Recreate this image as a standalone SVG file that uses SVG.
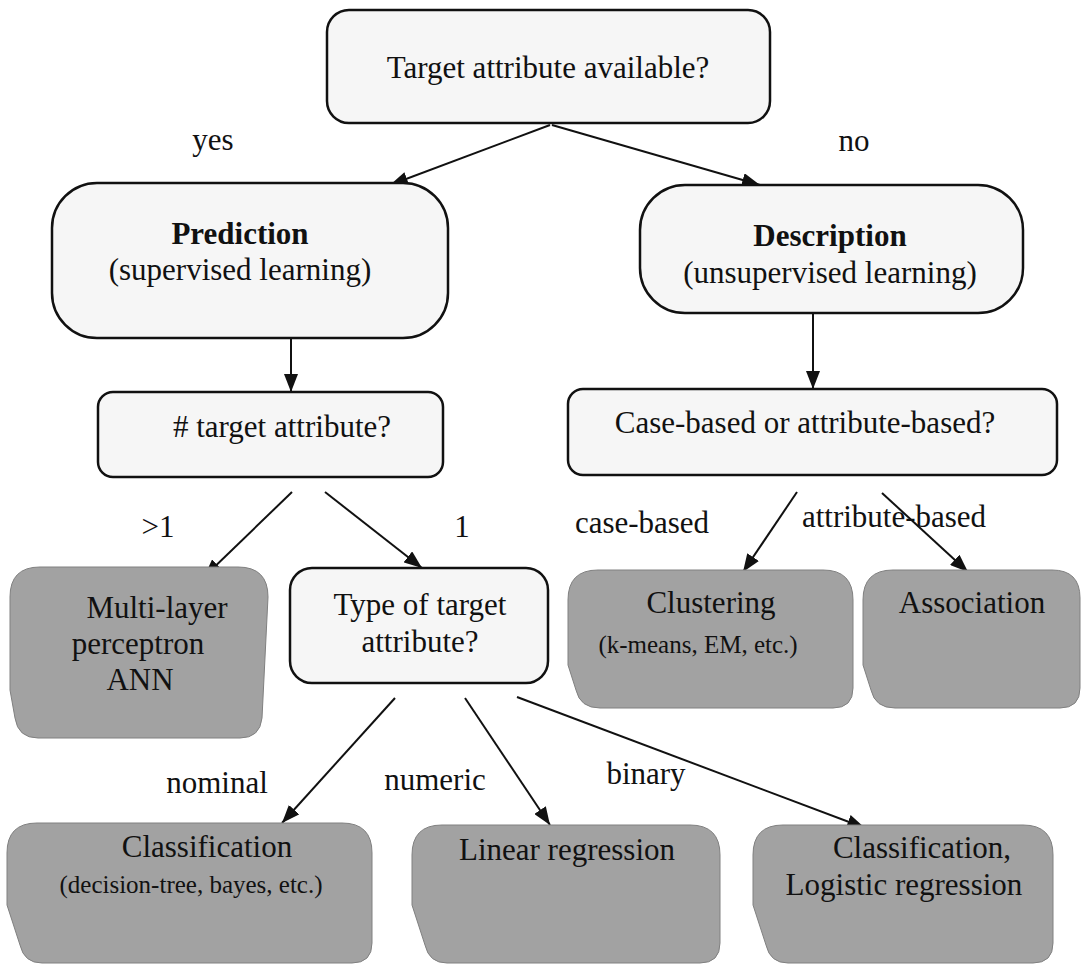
<svg xmlns="http://www.w3.org/2000/svg" width="1083" height="964" viewBox="0 0 1083 964">
<style>
.t{font-family:"Liberation Serif","Times New Roman",serif;font-size:31px;fill:#111;text-anchor:middle}
.s{font-size:25px}
.b{font-weight:bold}
.w{fill:#f6f6f6;stroke:#111;stroke-width:2.5}
.g{fill:#a2a2a2;stroke:#808080;stroke-width:1}
.c{stroke:#111;stroke-width:2;fill:none;marker-end:url(#ah)}
</style>
<defs>
<marker id="ah" viewBox="0 0 18 14" markerWidth="18" markerHeight="14" refX="18" refY="7" orient="auto" markerUnits="userSpaceOnUse">
<path d="M0,0 L18,7 L0,14 z" fill="#111"/>
</marker>
</defs>
<rect width="1083" height="964" fill="#fff"/>
<g id="connectors">
<line class="c" x1="550" y1="125" x2="390" y2="185"/>
<line class="c" x1="552" y1="125" x2="760" y2="185"/>
<line class="c" x1="291" y1="338" x2="291" y2="392"/>
<line class="c" x1="813" y1="313" x2="813" y2="389"/>
<line class="c" x1="292" y1="492" x2="204" y2="577"/>
<line class="c" x1="325" y1="492" x2="422" y2="568"/>
<line class="c" x1="797" y1="492" x2="743" y2="572"/>
<line class="c" x1="882" y1="493" x2="968" y2="572"/>
<line class="c" x1="395" y1="698" x2="282" y2="823"/>
<line class="c" x1="465" y1="698" x2="550" y2="825"/>
<line class="c" x1="517" y1="697" x2="865" y2="828"/>
<text class="t" x="213" y="150">yes</text>
<text class="t" x="854" y="151">no</text>
<text class="t" x="158" y="537">&gt;1</text>
<text class="t" x="462" y="537">1</text>
<text class="t" x="642" y="533">case-based</text>
<text class="t" x="894" y="527">attribute-based</text>
<text class="t" x="217" y="793">nominal</text>
<text class="t" x="435" y="790">numeric</text>
<text class="t" x="646" y="784">binary</text>
</g>
<g id="target">
<rect class="w" x="327" y="10" width="443" height="113" rx="22"/>
<text class="t" x="548" y="78">Target attribute available?</text>
</g>
<g id="prediction">
<rect class="w" x="52" y="183" width="396" height="155" rx="45"/>
<text class="t b" x="240" y="244">Prediction</text>
<text class="t" x="240" y="280">(supervised learning)</text>
</g>
<g id="description">
<rect class="w" x="640" y="185" width="383" height="128" rx="45"/>
<text class="t b" x="830" y="246">Description</text>
<text class="t" x="830" y="283">(unsupervised learning)</text>
</g>
<g id="num-target">
<rect class="w" x="98" y="392" width="345" height="85" rx="15"/>
<text class="t" x="282" y="437"># target attribute?</text>
</g>
<g id="case-attr">
<rect class="w" x="568" y="389" width="489" height="86" rx="15"/>
<text class="t" x="805" y="433">Case-based or attribute-based?</text>
</g>
<g id="type-target">
<rect class="w" x="290" y="568" width="258" height="115" rx="22"/>
<text class="t" x="420" y="615">Type of target</text>
<text class="t" x="420" y="652">attribute?</text>
</g>
<g id="mlp">
<path class="g" d="M40 567 H238 Q268 567 268 597 L262 718 Q260 738 240 738 H38 Q18 738 15 718 L10 690 V597 Q10 567 40 567 Z"/>
<text class="t" x="157" y="618">Multi-layer</text>
<text class="t" x="138" y="654">perceptron</text>
<text class="t" x="140" y="690">ANN</text>
</g>
<g id="clustering">
<path class="g" d="M598 570 H823 Q853 570 853 600 V688 Q853 708 833 708 H600 Q580 708 576 690 L568 665 V600 Q568 570 598 570 Z"/>
<text class="t" x="711" y="613">Clustering</text>
<text class="t s" x="698" y="653">(k-means, EM, etc.)</text>
</g>
<g id="association">
<path class="g" d="M893 570 H1052 Q1080 570 1080 598 V688 Q1080 708 1060 708 H895 Q875 708 871 690 L863 665 V600 Q863 570 893 570 Z"/>
<text class="t" x="972" y="613">Association</text>
</g>
<g id="classification">
<path class="g" d="M37 823 H342 Q372 823 372 853 V943 Q372 963 352 963 H42 Q24 963 20 945 L7 905 V853 Q7 823 37 823 Z"/>
<text class="t" x="207" y="857">Classification</text>
<text class="t s" x="191" y="893">(decision-tree, bayes, etc.)</text>
</g>
<g id="linear">
<path class="g" d="M442 825 H690 Q720 825 720 855 V943 Q720 963 700 963 H447 Q429 963 425 945 L412 905 V855 Q412 825 442 825 Z"/>
<text class="t" x="567" y="860">Linear regression</text>
</g>
<g id="logistic">
<path class="g" d="M783 825 H1023 Q1053 825 1053 855 V943 Q1053 963 1033 963 H788 Q770 963 766 945 L753 905 V855 Q753 825 783 825 Z"/>
<text class="t" x="922" y="858">Classification,</text>
<text class="t" x="904" y="895">Logistic regression</text>
</g>
</svg>
